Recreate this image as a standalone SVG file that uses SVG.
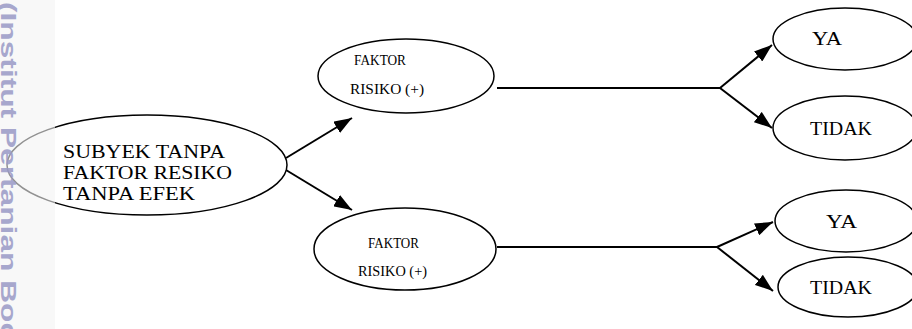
<svg xmlns="http://www.w3.org/2000/svg" width="912" height="329" viewBox="0 0 912 329">
<defs>
<style>
.node ellipse{fill:#fff;stroke:#000;stroke-width:1.5}
.t{font-family:"Liberation Serif","Times New Roman",serif;fill:#000}
.big{font-size:18px}
.end{font-size:19px}
.mid{font-size:14px}
.conn line{stroke:#000;stroke-width:2;fill:none}
.wm{font-family:"Liberation Sans",Arial,sans-serif;font-weight:bold;font-size:22px;fill:#9a9ac6}
</style>
<marker id="ah" markerWidth="18" markerHeight="13" refX="18" refY="6.5" orient="auto" markerUnits="userSpaceOnUse">
<path d="M0,0 L18,6.5 L0,13 Z" fill="#000"/>
</marker>
</defs>
<rect width="912" height="329" fill="#fff"/>
<g id="subyek" class="node">
<ellipse cx="147" cy="165" rx="140" ry="50"/>
<text class="t big" x="63" y="158" textLength="162" lengthAdjust="spacingAndGlyphs">SUBYEK TANPA</text>
<text class="t big" x="63" y="179" textLength="169" lengthAdjust="spacingAndGlyphs">FAKTOR RESIKO</text>
<text class="t big" x="63" y="200" textLength="132" lengthAdjust="spacingAndGlyphs">TANPA EFEK</text>
</g>
<g id="faktor1" class="node">
<ellipse cx="406" cy="76" rx="88" ry="37"/>
<text class="t mid" x="354" y="65" textLength="52" lengthAdjust="spacingAndGlyphs">FAKTOR</text>
<text class="t mid" x="350" y="94" textLength="74" lengthAdjust="spacingAndGlyphs">RISIKO (+)</text>
</g>
<g id="faktor2" class="node">
<ellipse cx="405" cy="249" rx="91" ry="41"/>
<text class="t mid" x="368" y="248" textLength="51" lengthAdjust="spacingAndGlyphs">FAKTOR</text>
<text class="t mid" x="358" y="276" textLength="69" lengthAdjust="spacingAndGlyphs">RISIKO (+)</text>
</g>
<g id="ya1" class="node">
<ellipse cx="845" cy="39" rx="72" ry="31"/>
<text class="t end" x="812" y="45" textLength="30" lengthAdjust="spacingAndGlyphs">YA</text>
</g>
<g id="tidak1" class="node">
<ellipse cx="845" cy="128" rx="72" ry="32"/>
<text class="t end" x="810" y="135" textLength="62" lengthAdjust="spacingAndGlyphs">TIDAK</text>
</g>
<g id="ya2" class="node">
<ellipse cx="846" cy="221" rx="71" ry="31"/>
<text class="t end" x="826" y="228" textLength="31" lengthAdjust="spacingAndGlyphs">YA</text>
</g>
<g id="tidak2" class="node">
<ellipse cx="848" cy="287" rx="70" ry="30"/>
<text class="t end" x="810" y="294" textLength="62" lengthAdjust="spacingAndGlyphs">TIDAK</text>
</g>
<g id="connectors" class="conn">
<line x1="286" y1="158" x2="352" y2="118" marker-end="url(#ah)"/>
<line x1="286" y1="170" x2="352" y2="210" marker-end="url(#ah)"/>
<line x1="497" y1="88" x2="720" y2="88"/>
<line x1="720" y1="88" x2="772" y2="45" marker-end="url(#ah)"/>
<line x1="720" y1="88" x2="772" y2="128" marker-end="url(#ah)"/>
<line x1="497" y1="247" x2="717" y2="247"/>
<line x1="717" y1="247" x2="773" y2="222" marker-end="url(#ah)"/>
<line x1="717" y1="247" x2="773" y2="291" marker-end="url(#ah)"/>
</g>
<g id="watermark">
<rect x="0" y="0" width="55" height="329" fill="#f4f4f4" opacity="0.6"/>
<text class="wm" transform="translate(1,2) rotate(90)" textLength="382" lengthAdjust="spacingAndGlyphs" opacity="0.85">(Institut Pertanian Bogor)</text>
</g>
</svg>
